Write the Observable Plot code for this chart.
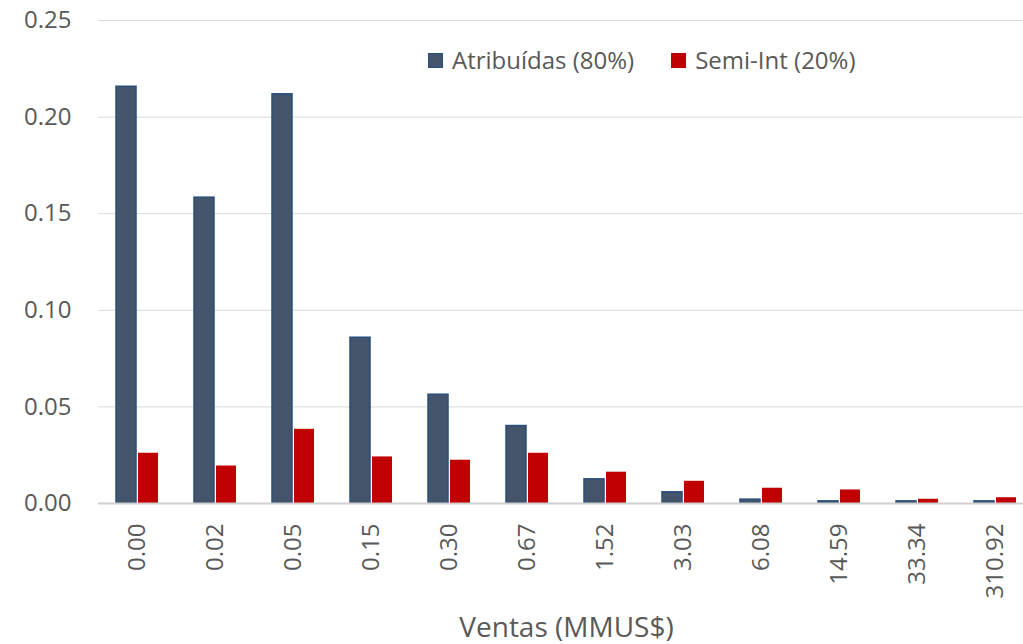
<!DOCTYPE html>
<html><head><meta charset="utf-8">
<script src="https://cdn.jsdelivr.net/npm/d3@7"></script>
<script src="https://cdn.jsdelivr.net/npm/@observablehq/plot@0.6"></script>
<style>
html,body{margin:0;padding:0;background:#fff;overflow:hidden}
#wrap{position:relative;width:1023px;height:644px;overflow:hidden;font-family:"Open Sans",sans-serif}
#wrap svg{max-width:none !important;display:block}
#wrap g[aria-label="fx-axis label"]{font-size:28px}
#legend{position:absolute;left:428px;top:42px;display:flex;align-items:center;font-size:24px;color:#595959;line-height:36px;white-space:nowrap}
#legend .item{display:flex;align-items:center;margin-right:37px}
#legend .sw{width:15px;height:15px;box-sizing:border-box;margin-right:9px}
</style>
</head><body>
<div id="wrap"><div id="legend"></div></div>
<script>
const categories = ["0.00","0.02","0.05","0.15","0.30","0.67","1.52","3.03","6.08","14.59","33.34","310.92"];
const seriesNames = ["Atribuídas (80%)", "Semi-Int (20%)"];
const atribuidas = [0.2157, 0.1583, 0.2118, 0.0858, 0.0563, 0.0401, 0.0125, 0.0058, 0.0020, 0.0011, 0.0011, 0.0011];
const semiInt   = [0.0260, 0.0194, 0.0384, 0.0241, 0.0224, 0.0260, 0.0162, 0.0115, 0.0079, 0.0070, 0.0022, 0.0030];
const yTicks = [0, 0.05, 0.10, 0.15, 0.20, 0.25];
const fills = ["#44546A", "#C00000"];
const strokes = ["#27507C", "#C00000"];
const xTitle = "Ventas (MMUS$)";

const rows = categories.flatMap((c, i) => [
  {cat: c, series: seriesNames[0], value: atribuidas[i]},
  {cat: c, series: seriesNames[1], value: semiInt[i]}
]);

const chart = Plot.plot({
  width: 1035, height: 644,
  marginLeft: 96, marginRight: 0, marginTop: 20, marginBottom: 141,
  style: {fontFamily: "'Open Sans', sans-serif", fontSize: "24px", color: "#595959", background: "white", maxWidth: "none", overflow: "visible"},
  fx: {domain: categories, padding: 0},
  x: {domain: seriesNames, paddingInner: 0.1, paddingOuter: 0.81, axis: null},
  y: {domain: [0, 0.25]},
  marks: [
    Plot.gridY(yTicks, {stroke: "#d9d9d9", strokeOpacity: 1, strokeWidth: 1}),
    Plot.axisY(yTicks, {tickSize: 0, tickPadding: 27, tickFormat: d3.format(".2f"), fontSize: 24, fill: "#595959", label: null}),
    Plot.axisFx({anchor: "bottom", tickSize: 0, tickPadding: 20, tickRotate: -90, fontSize: 24, fill: "#595959", label: xTitle, labelAnchor: "center", labelOffset: 133}),
    Plot.barY(rows.filter(d => d.series === seriesNames[0]), {fx: "cat", x: "series", y: "value", fill: fills[0], stroke: strokes[0], strokeWidth: 1.5}),
    Plot.barY(rows.filter(d => d.series === seriesNames[1]), {fx: "cat", x: "series", y: "value", fill: fills[1]}),
    Plot.ruleY([0], {stroke: "#d0d0d0", strokeWidth: 2})
  ]
});
document.getElementById("wrap").prepend(chart);

const legend = document.getElementById("legend");
seriesNames.forEach((s, i) => {
  const item = document.createElement("div");
  item.className = "item";
  const sw = document.createElement("div");
  sw.className = "sw";
  sw.style.background = fills[i];
  sw.style.border = "1.5px solid " + strokes[i];
  item.appendChild(sw);
  item.appendChild(document.createTextNode(s));
  legend.appendChild(item);
});
</script>
</body></html>
